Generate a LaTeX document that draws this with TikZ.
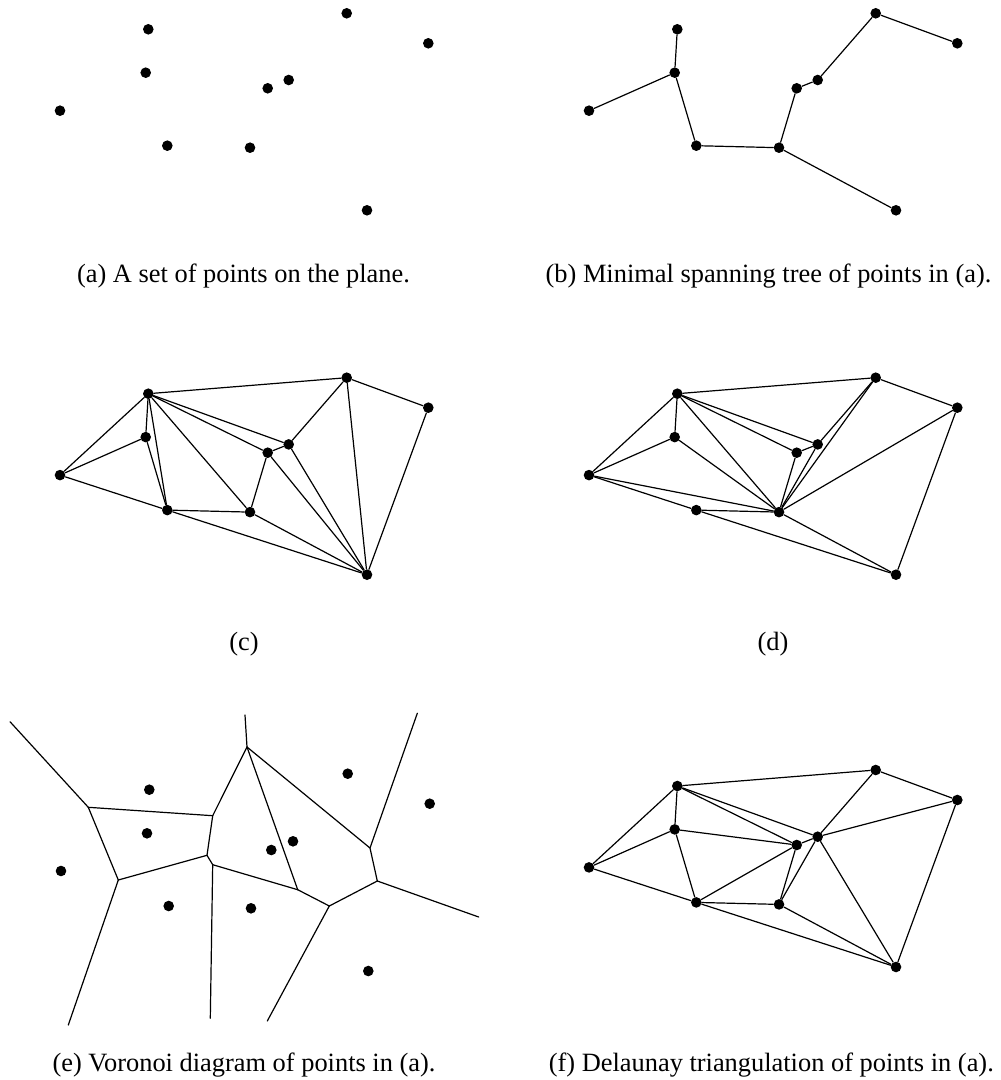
\documentclass[tikz,border=0pt]{standalone}
\usepackage{fontspec}
\setmainfont{Liberation Serif}
\begin{document}
\begin{tikzpicture}[x=0.5pt,y=-0.5pt,
  dot/.style={circle,fill=black,draw=none,inner sep=0pt,minimum size=5.3pt},
  edge/.style={line width=0.6pt,line cap=round,line join=round},
  captext/.style={font=\fontsize{13.2}{15}\selectfont,inner sep=0pt}]
\useasboundingbox (0,0) rectangle (1000,1080);
% helper to place the 10 points with an offset
\newcommand\placepts[3]{%
  \node[dot] (#1-1)  at ({148.3+#2},{29.3+#3}) {};
  \node[dot] (#1-2)  at ({346.7+#2},{13.3+#3}) {};
  \node[dot] (#1-3)  at ({428.3+#2},{43.3+#3}) {};
  \node[dot] (#1-4)  at ({145.7+#2},{72.7+#3}) {};
  \node[dot] (#1-5)  at ({288.7+#2},{80+#3}) {};
  \node[dot] (#1-6)  at ({267.7+#2},{88.3+#3}) {};
  \node[dot] (#1-7)  at ({60+#2},{110.7+#3}) {};
  \node[dot] (#1-8)  at ({167.3+#2},{145.7+#3}) {};
  \node[dot] (#1-9)  at ({250+#2},{147.7+#3}) {};
  \node[dot] (#1-10) at ({367+#2},{210.3+#3}) {};}
% (a)
\placepts{a}{0}{0}
\node[captext] (capa) at (243.5,276) {(a) A set of points on the plane.};
% (b)
\placepts{b}{529}{0}
\foreach \u/\v in {1/4,4/7,4/8,8/9,9/6,6/5,5/2,2/3,9/10}
  \draw[edge] (b-\u) -- (b-\v);
\node[captext] (capb) at (768.5,276) {(b) Minimal spanning tree of points in (a).};
% (c)
\placepts{c}{0}{364.4}
\foreach \u/\v in {1/2,1/7,1/4,1/8,1/9,1/6,1/5,2/3,2/5,2/10,3/10,4/7,4/8,7/8,8/9,8/10,9/6,9/10,6/5,6/10,5/10}
  \draw[edge] (c-\u) -- (c-\v);
\node[captext] (capc) at (244,644) {(c)};
% (d)
\placepts{d}{529}{364.4}
\foreach \u/\v in {1/2,1/7,1/4,1/9,1/6,1/5,2/3,2/5,2/9,3/9,3/10,4/7,4/9,5/6,5/9,6/9,7/8,7/9,8/9,8/10,9/10}
  \draw[edge] (d-\u) -- (d-\v);
\node[captext] (capd) at (773,644) {(d)};
% (e) Voronoi
\node[dot] (e-1)  at (149.3,789.7) {};
\node[dot] (e-2)  at (347.7,773.7) {};
\node[dot] (e-3)  at (429.7,803.7) {};
\node[dot] (e-4)  at (147,833.3) {};
\node[dot] (e-5)  at (293,841.3) {};
\node[dot] (e-6)  at (271.3,850) {};
\node[dot] (e-7)  at (61,871) {};
\node[dot] (e-8)  at (168.7,906) {};
\node[dot] (e-9)  at (251,908.3) {};
\node[dot] (e-10) at (368.3,971) {};
\coordinate (vA) at (88.3,807.3);
\coordinate (vB) at (118.3,880);
\coordinate (vC) at (212.7,815.7);
\coordinate (vD) at (207,855.3);
\coordinate (vE) at (212.7,864.7);
\coordinate (vF) at (247,747);
\coordinate (vG) at (297.7,889.7);
\coordinate (vH) at (329.3,906);
\coordinate (vI) at (370,848);
\coordinate (vJ) at (377.3,881);
\coordinate (tA) at (10,721.7);
\coordinate (tB) at (68.3,1025);
\coordinate (tE) at (210.3,1018.3);
\coordinate (tF) at (245,715);
\coordinate (tH) at (267.3,1021);
\coordinate (tI) at (417.3,713.3);
\coordinate (tJ) at (478.7,917);
\foreach \u/\v in {vA/tA,vA/vC,vA/vB,vB/vD,vB/tB,vC/vD,vC/vF,vD/vE,vE/tE,vE/vG,vF/tF,vF/vG,vF/vI,vG/vH,vH/vJ,vH/tH,vI/vJ,vI/tI,vJ/tJ}
  \draw[edge] (\u) -- (\v);
\node[captext] (cape) at (244,1065.5) {(e) Voronoi diagram of points in (a).};
% (f) Delaunay
\placepts{f}{529}{756.7}
\foreach \u/\v in {1/2,1/7,1/4,1/6,1/5,2/3,2/5,3/5,3/10,4/7,4/6,4/8,7/8,8/6,8/9,8/10,9/6,9/5,9/10,5/10,5/6}
  \draw[edge] (f-\u) -- (f-\v);
\node[captext] (capf) at (771.3,1065.5) {(f) Delaunay triangulation of points in (a).};
\end{tikzpicture}
\end{document}
